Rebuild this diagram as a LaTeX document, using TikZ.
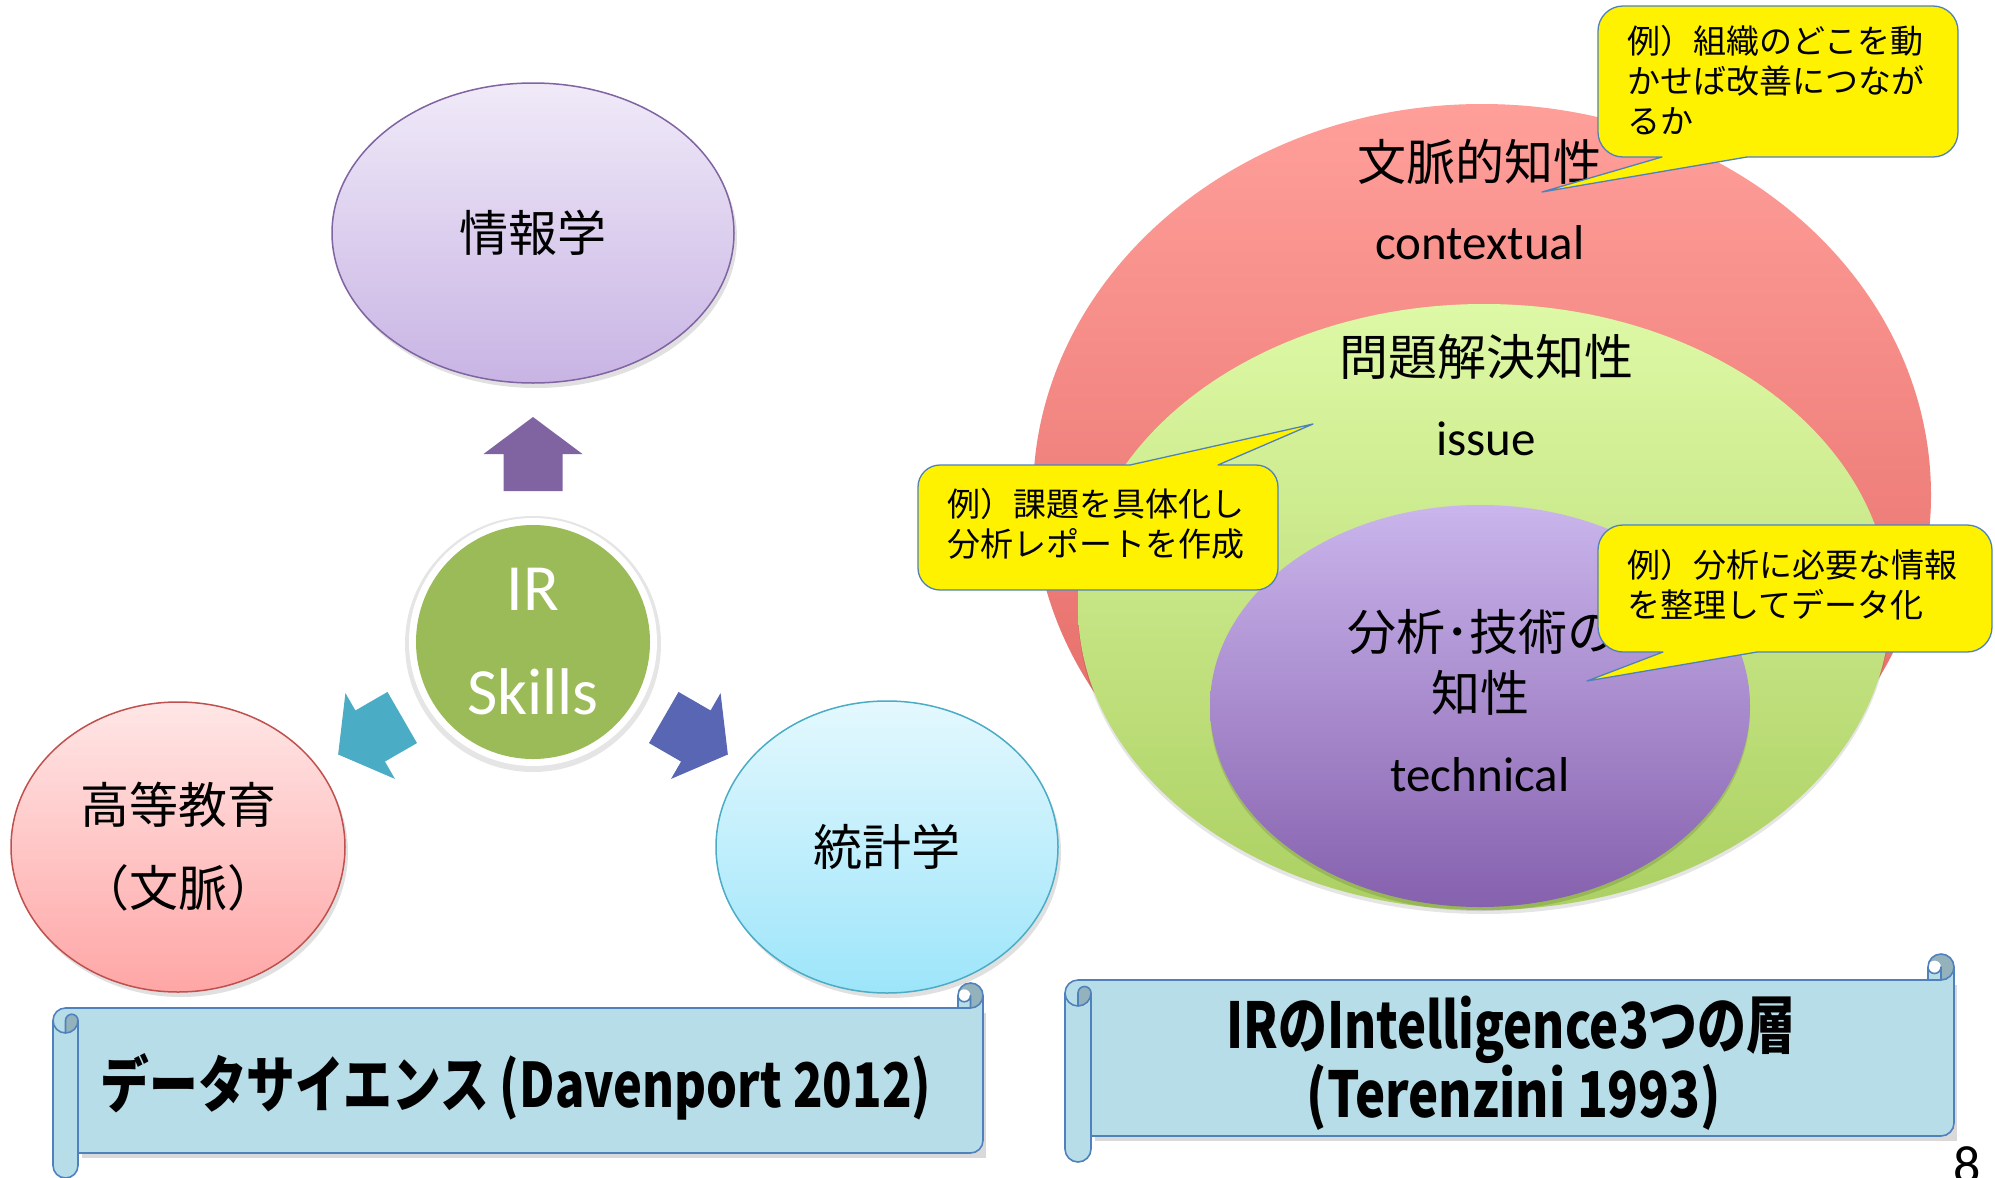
\documentclass[tikz,border=0pt]{standalone}
\usepackage{fontspec}
\usetikzlibrary{shapes.geometric}
\newfontfamily\jpfont{Noto Sans CJK JP}
\newfontfamily\latfont{Carlito}
\definecolor{infoTop}{HTML}{F0EAF8}
\definecolor{infoBot}{HTML}{C8B4E4}
\definecolor{infoLine}{HTML}{8064A2}
\definecolor{eduTop}{HTML}{FFE6E6}
\definecolor{eduBot}{HTML}{FFA6A6}
\definecolor{eduLine}{HTML}{C0504D}
\definecolor{statTop}{HTML}{E4F8FE}
\definecolor{statBot}{HTML}{9DE5FA}
\definecolor{statLine}{HTML}{4BACC6}
\definecolor{irGreen}{HTML}{9BBB59}
\definecolor{arrPurple}{HTML}{8064A2}
\definecolor{arrTeal}{HTML}{4BACC6}
\definecolor{arrBlue}{HTML}{5966B3}
\definecolor{redTop}{HTML}{FF9F9A}
\definecolor{redBot}{HTML}{E0625E}
\definecolor{greenTop}{HTML}{DEF9A6}
\definecolor{greenBot}{HTML}{ACD062}
\definecolor{purpTop}{HTML}{CAB5EC}
\definecolor{purpBot}{HTML}{8661AE}
\definecolor{calloutLine}{HTML}{4F81BD}
\definecolor{scrollFill}{HTML}{B7DDE8}
\definecolor{scrollDark}{HTML}{93B2BC}
\definecolor{scrollLine}{HTML}{4F81BD}

\newcommand\drawScroll[5]{%
 \pgfmathsetmacro\sL{#1}\pgfmathsetmacro\sT{#2}\pgfmathsetmacro\sR{#3}\pgfmathsetmacro\sB{#4}%
 \pgfmathsetmacro\sC{#5}\pgfmathsetmacro\sH{#5/2}\pgfmathsetmacro\sQ{#5/4}%
 \fill[black,opacity=0.15] ({\sL+\sC+4},{\sT+\sC+5}) rectangle ({\sR+3},{\sB-\sC+5});
 \fill[scrollFill] (\sR,{\sT+\sH}) arc[start angle=0,end angle=90,radius=\sH]
   -- ({\sR-\sH},{\sT+\sH}) arc[start angle=0,end angle=180,radius=\sQ]
   -- ({\sR-\sC},{\sT+\sC}) -- ({\sL+\sH},{\sT+\sC})
   arc[start angle=270,end angle=180,radius=\sH] -- (\sL,{\sB-\sH})
   arc[start angle=180,end angle=0,radius=\sH] -- ({\sL+\sC},{\sB-\sC})
   -- ({\sR-\sH},{\sB-\sC}) arc[start angle=90,end angle=0,radius=\sH] -- cycle;
 \fill[scrollDark] ({\sL+\sH},{\sT+2*\sC}) arc[start angle=90,end angle=0,radius=\sH]
   arc[start angle=0,end angle=-180,radius=\sQ] -- cycle;
 \fill[scrollDark] ({\sR-\sH},{\sT+\sC}) arc[start angle=90,end angle=-180,radius=\sH]
   arc[start angle=180,end angle=360,radius=\sQ] -- cycle;
 \draw[scrollstroke] (\sL,{\sT+1.5*\sC}) arc[start angle=180,end angle=270,radius=\sH]
   -- ({\sR-\sH},{\sT+\sC}) arc[start angle=90,end angle=0,radius=\sH]
   -- (\sR,{\sB-1.5*\sC}) arc[start angle=0,end angle=90,radius=\sH]
   -- ({\sL+\sC},{\sB-\sC}) -- ({\sL+\sC},{\sB-\sH})
   arc[start angle=0,end angle=180,radius=\sH] -- cycle;
 \draw[scrollstroke] ({\sR-\sC},{\sT+\sC}) -- ({\sR-\sC},{\sT+\sH}) arc[start angle=180,end angle=360,radius=\sH];
 \draw[scrollstroke] ({\sR-\sH},{\sT+\sC}) -- ({\sR-\sH},{\sT+\sH}) arc[start angle=0,end angle=180,radius=\sQ];
 \draw[scrollstroke] ({\sL+\sH},{\sT+2*\sC}) -- ({\sL+\sH},{\sT+1.5*\sC})
   arc[start angle=180,end angle=360,radius=\sQ] arc[start angle=0,end angle=180,radius=\sH];
 \draw[scrollstroke] ({\sL+\sC},{\sT+1.5*\sC}) -- ({\sL+\sC},{\sB-\sC});
}

\begin{document}
\begin{tikzpicture}[x=1pt,y=-1pt,
  ell/.style={ellipse, inner sep=0, line width=1.5pt, align=center,
    font=\jpfont\fontsize{49}{83}\selectfont},
  shad/.style={fill=black,opacity=0.12},
  jptxt/.style={font=\jpfont\fontsize{49}{60}\selectfont, inner sep=0},
  lattxt/.style={font=\latfont\fontsize{49}{60}\selectfont, inner sep=0},
  irtxt/.style={font=\latfont\fontsize{66}{70}\selectfont, text=white, inner sep=0, anchor=base},
  callout/.style={fill=yellow, draw=calloutLine, line width=1.3pt, line join=round},
  callouttxt/.style={font=\jpfont\fontsize{33}{40}\selectfont, align=left, anchor=west, inner sep=0},
  scrollstroke/.style={draw=scrollLine, line width=1.6pt, line join=round},
  titletxt/.style={font=\jpfont\bfseries\fontsize{58}{60}\selectfont, inner sep=0}]
\useasboundingbox (0,0) rectangle (1995,1178);
\fill[white] (0,0) rectangle (1995,1178);

% ---------- left: IR skills ----------
\fill[shad] (536,238) ellipse[x radius=201, y radius=150];
\node[ell, minimum width=402, minimum height=300, top color=infoTop, bottom color=infoBot, draw=infoLine] (info) at (533,233) {情報学};

\fill[shad] (181,852) ellipse[x radius=167, y radius=145];
\node[ell, minimum width=334, minimum height=290, top color=eduTop, bottom color=eduBot, draw=eduLine] (edu) at (178,847) {高等教育\\（文脈）};

\fill[shad] (890,852) ellipse[x radius=171, y radius=146];
\node[ell, minimum width=342, minimum height=292, top color=statTop, bottom color=statBot, draw=statLine] (stat) at (887,847) {統計学};

\fill[arrPurple] (533,417) -- (582.5,454) -- (562.5,454) -- (562.5,491) -- (503.5,491) -- (503.5,454) -- (483.5,454) -- cycle;
\fill[arrTeal, rotate around={120:(533,642)}] (533,417) -- (582.5,454) -- (562.5,454) -- (562.5,491) -- (503.5,491) -- (503.5,454) -- (483.5,454) -- cycle;
\fill[arrBlue, rotate around={-120:(533,642)}] (533,417) -- (582.5,454) -- (562.5,454) -- (562.5,491) -- (503.5,491) -- (503.5,454) -- (483.5,454) -- cycle;

\fill[black,opacity=0.10] (533,644) circle[radius=128];
\node[circle, fill=white, minimum size=248, inner sep=0] (irring) at (533,642) {};
\node[circle, fill=irGreen, minimum size=234, inner sep=0] (ir) at (533,642) {};
\node[irtxt] (irA) at (533,610) {IR};
\node[irtxt] (irB) at (533,714) {Skills};

% ---------- right: Venn ----------
\node[ellipse, inner sep=0, minimum width=898, minimum height=782, top color=redTop, bottom color=redBot] (red) at (1482,495) {};
\fill[black,opacity=0.10] (1484,611) ellipse[x radius=406, y radius=303];
\node[ellipse, inner sep=0, minimum width=812, minimum height=606, top color=greenTop, bottom color=greenBot] (green) at (1484,607) {};
\fill[black,opacity=0.12] (1480,710) ellipse[x radius=270, y radius=201];
\node[ellipse, inner sep=0, minimum width=540, minimum height=402, top color=purpTop, bottom color=purpBot] (purple) at (1480,706) {};

\node[jptxt] (c1) at (1480,162) {文脈的知性};
\node[lattxt] (c1e) at (1480,243) {contextual};
\node[jptxt] (c2) at (1486,357) {問題解決知性};
\node[lattxt] (c2e) at (1486,439) {issue};
\node[jptxt] (c3a) at (1482,632) {分析･技術の};
\node[jptxt] (c3b) at (1480,693) {知性};
\node[lattxt] (c3e) at (1480,775) {technical};

% callouts
\draw[callout] (1623,6) -- (1933,6) arc[start angle=-90,end angle=0,radius=25] -- (1958,132)
  arc[start angle=0,end angle=90,radius=25] -- (1747,157) -- (1542,192) -- (1662,157) -- (1623,157)
  arc[start angle=90,end angle=180,radius=25] -- (1598,31) arc[start angle=180,end angle=270,radius=25] -- cycle;
\node[callouttxt] (k1) at (1627,80) {例）組織のどこを動\\かせば改善につなが\\るか};

\draw[callout] (940,465) -- (1130,465) -- (1313,424) -- (1218,465) -- (1256,465)
  arc[start angle=-90,end angle=0,radius=22] -- (1278,568) arc[start angle=0,end angle=90,radius=22]
  -- (940,590) arc[start angle=90,end angle=180,radius=22] -- (918,487) arc[start angle=180,end angle=270,radius=22] -- cycle;
\node[callouttxt] (k2) at (947,524) {例）課題を具体化し\\分析レポートを作成};

\draw[callout] (1623,525) -- (1967,525) arc[start angle=-90,end angle=0,radius=25] -- (1992,627)
  arc[start angle=0,end angle=90,radius=25] -- (1757,652) -- (1587,681) -- (1663,652) -- (1623,652)
  arc[start angle=90,end angle=180,radius=25] -- (1598,550) arc[start angle=180,end angle=270,radius=25] -- cycle;
\node[callouttxt] (k3) at (1627,585) {例）分析に必要な情報\\を整理してデータ化};

% ---------- scrolls ----------
\drawScroll{53}{983}{983}{1178}{25}
\node[titletxt] (ds) at (516,1087) {\scalebox{0.84}[1.06]{データサイエンス (Davenport 2012)}};

\drawScroll{1065}{954}{1954}{1162}{26}
\node[titletxt, font=\jpfont\bfseries\fontsize{62}{64}\selectfont] (ir1) at (1511,1030) {\scalebox{0.79}[1.02]{IRのIntelligence3つの層}};
\node[titletxt, font=\jpfont\bfseries\fontsize{62}{64}\selectfont] (ir2) at (1514,1097) {\scalebox{0.82}[1.02]{(Terenzini 1993)}};

\node[font=\latfont\fontsize{54}{60}\selectfont, anchor=base, inner sep=0] (pg) at (1967,1183) {8};
\end{tikzpicture}
\end{document}
